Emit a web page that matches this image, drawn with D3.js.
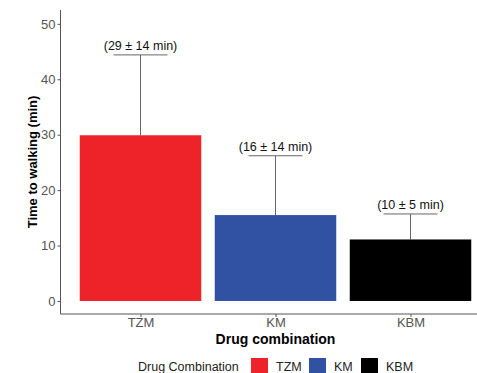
<!DOCTYPE html>
<html>
<head>
<meta charset="utf-8">
<script src="https://cdn.jsdelivr.net/npm/d3@7"></script>
<style>
  body { margin: 0; background: #fff; }
  text { font-family: "Liberation Sans", Arial, sans-serif; }
</style>
</head>
<body>
<div id="chart"></div>
<script>
// data
const drugs = ['TZM', 'KM', 'KBM']
const meanTime = [29.9, 15.5, 11.1]
const errUp = [14.5, 10.7, 4.6]
const labels = ['(29 ± 14 min)', '(16 ± 14 min)', '(10 ± 5 min)']
const colors = ['#ee2229', '#3152a3', '#000000']
const yTicks = [0, 10, 20, 30, 40, 50]

const W = 477, H = 373
const pLeft = 59.5, pRight = 491.5, pTop = 10, pBottom = 314

const svg = d3.select('#chart').append('svg')
  .attr('width', W).attr('height', H)

// discrete positions 1..n, ggplot style expansion 0.6
const x = d3.scaleLinear().domain([0.4, drugs.length + 0.6]).range([pLeft, pRight])
const y = d3.scaleLinear().domain([-2.35, 52.5]).range([pBottom, pTop])
const barW = 0.9, capW = 0.4

let g = svg.append('g')

// error bars (drawn first, bar covers lower half)
drugs.forEach((d, i) => {
  let cx = x(i + 1)
  g.append('line')
    .attr('x1', cx).attr('x2', cx)
    .attr('y1', y(meanTime[i])).attr('y2', y(meanTime[i] + errUp[i]))
    .attr('stroke', '#666').attr('stroke-width', 1)
  g.append('line')
    .attr('x1', x(i + 1 - capW / 2)).attr('x2', x(i + 1 + capW / 2))
    .attr('y1', y(meanTime[i] + errUp[i])).attr('y2', y(meanTime[i] + errUp[i]))
    .attr('stroke', '#666').attr('stroke-width', 1)
  g.append('text')
    .attr('x', cx).attr('y', y(meanTime[i] + errUp[i]) - 5)
    .attr('text-anchor', 'middle')
    .attr('font-size', 12.5)
    .attr('fill', '#111')
    .text(labels[i])
})

g.selectAll('rect.bar')
  .data(drugs)
  .join('rect')
  .attr('class', 'bar')
  .attr('x', (d, i) => x(i + 1 - barW / 2))
  .attr('width', (d, i) => x(i + 1 + barW / 2) - x(i + 1 - barW / 2))
  .attr('y', (d, i) => y(meanTime[i]))
  .attr('height', (d, i) => y(0) - y(meanTime[i]))
  .attr('fill', (d, i) => colors[i])

// axes
let yAxis = svg.append('g')
  .attr('transform', `translate(${pLeft + 1},0)`)
  .call(d3.axisLeft(y).tickValues(yTicks).tickSize(3).tickPadding(2))
yAxis.select('.domain').attr('stroke', '#555').attr('d', `M0,${pTop}V${pBottom}`)
yAxis.selectAll('.tick line').attr('stroke', '#555')
yAxis.selectAll('.tick text').attr('font-size', 13).attr('fill', '#555')
  .style('font-family', '"Liberation Sans", Arial, sans-serif')

let xAxis = svg.append('g')
  .attr('transform', `translate(0,${pBottom})`)
  .call(d3.axisBottom(x).tickValues(drugs.map((d, i) => i + 1))
    .tickFormat((d) => drugs[d - 1]).tickSize(3).tickPadding(1))
xAxis.select('.domain').attr('stroke', '#555').attr('d', `M${pLeft + 1},0H${pRight}`)
xAxis.selectAll('.tick line').attr('stroke', '#555')
xAxis.selectAll('.tick text').attr('font-size', 13).attr('fill', '#555')
  .style('font-family', '"Liberation Sans", Arial, sans-serif')

// titles
svg.append('text')
  .attr('transform', `translate(37,${(pTop + pBottom) / 2}) rotate(-90)`)
  .attr('text-anchor', 'middle')
  .attr('font-size', 13).attr('font-weight', 'bold')
  .text('Time to walking (min)')

svg.append('text')
  .attr('x', (pLeft + pRight) / 2).attr('y', 344)
  .attr('text-anchor', 'middle')
  .attr('font-size', 14).attr('font-weight', 'bold')
  .text('Drug combination')

// legend
let leg = svg.append('g')
leg.append('text')
  .attr('x', 138).attr('y', 371)
  .attr('font-size', 12.5).attr('fill', '#222')
  .text('Drug Combination')
let keyX = [251, 309, 361]
drugs.forEach((d, i) => {
  leg.append('rect')
    .attr('x', keyX[i]).attr('y', 358).attr('width', 17).attr('height', 17)
    .attr('fill', colors[i])
  leg.append('text')
    .attr('x', keyX[i] + 25).attr('y', 371)
    .attr('font-size', 12.5).attr('fill', '#222')
    .text(d)
})
</script>
</body>
</html>
